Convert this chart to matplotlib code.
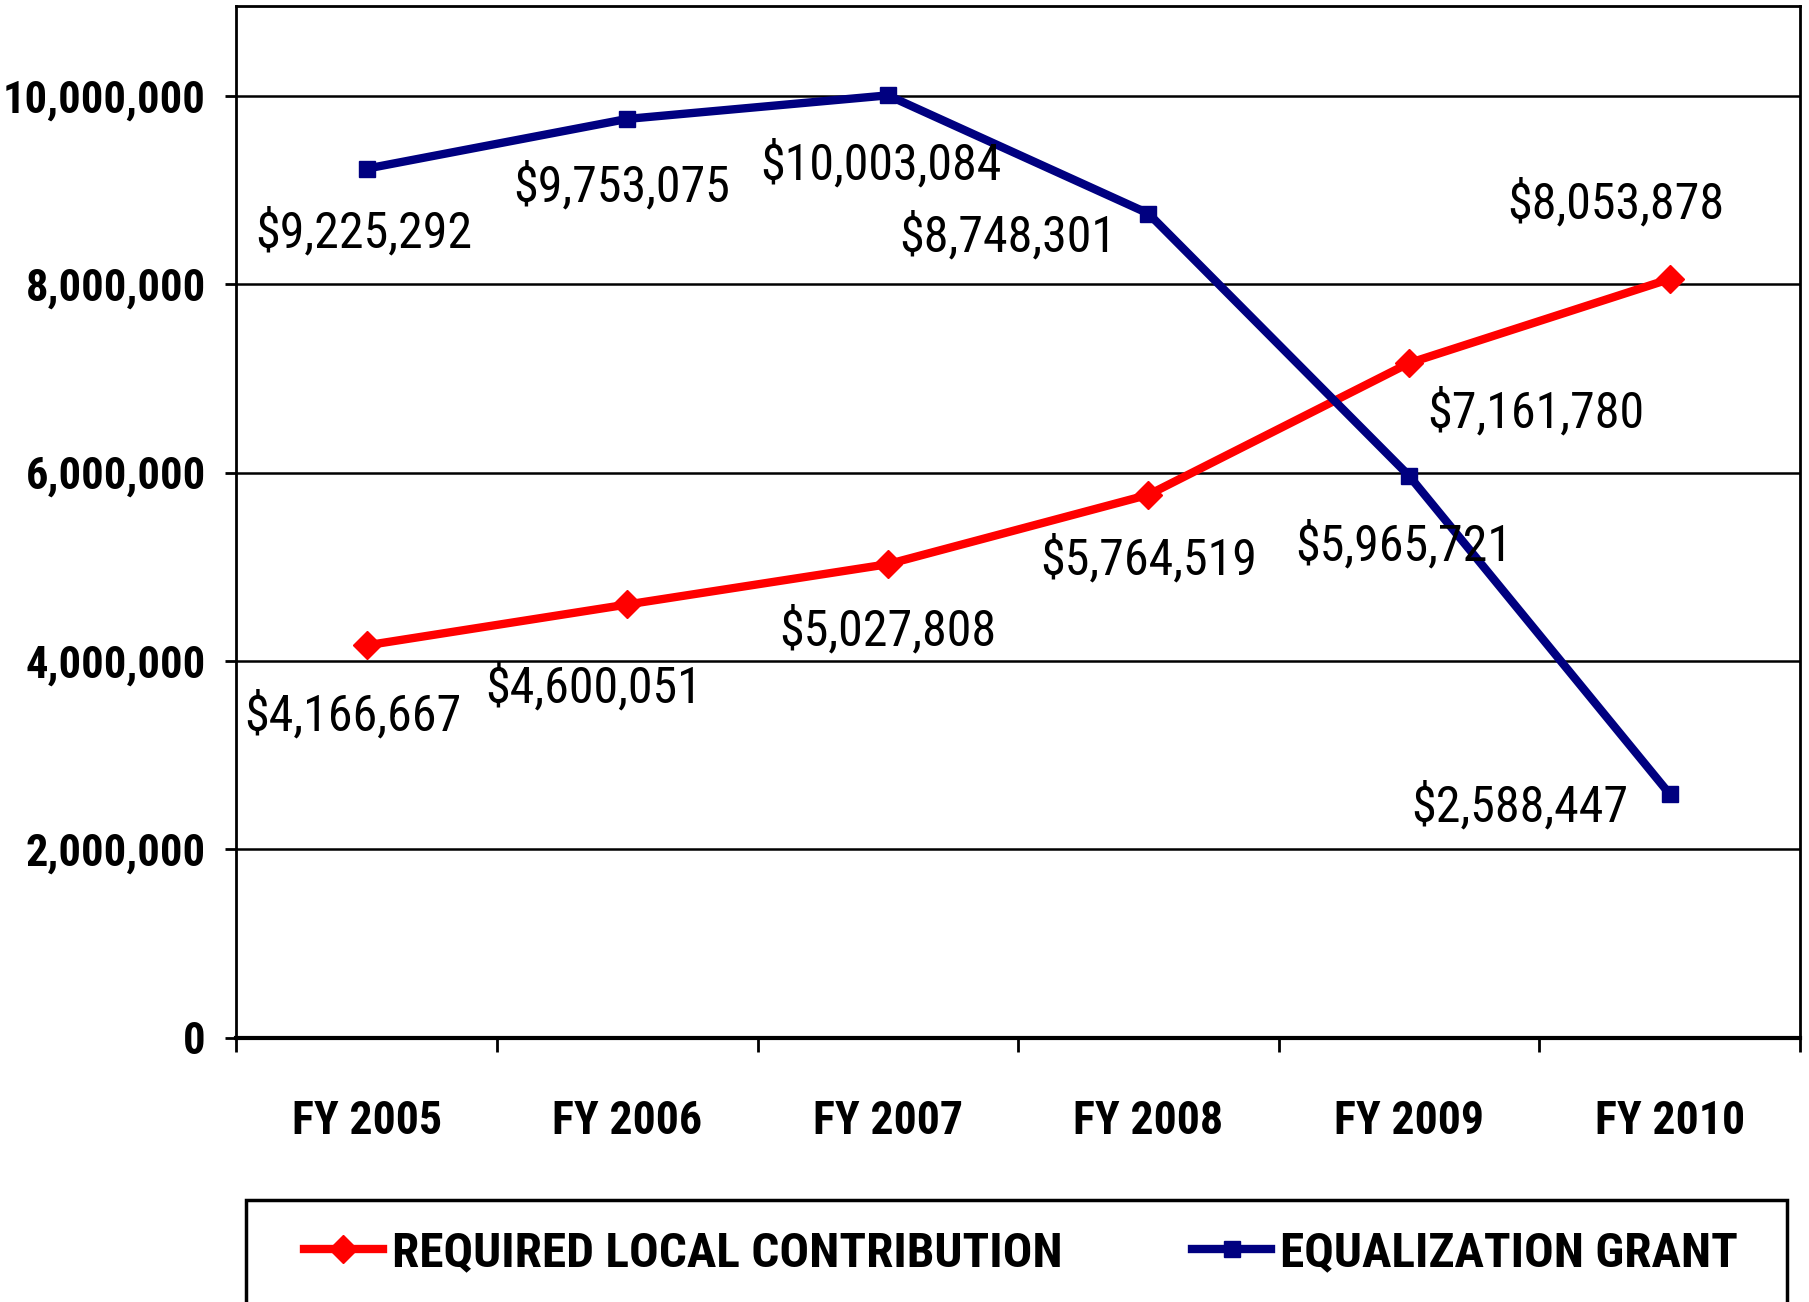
import matplotlib.pyplot as plt
import matplotlib.patches as patches
from matplotlib.ticker import FuncFormatter

plt.rcParams['font.family'] = ['Roboto Condensed', 'DejaVu Sans']

years = ['FY 2005', 'FY 2006', 'FY 2007', 'FY 2008', 'FY 2009', 'FY 2010']
local_contrib = [4166667, 4600051, 5027808, 5764519, 7161780, 8053878]
equal_grant = [9225292, 9753075, 10003084, 8748301, 5965721, 2588447]

# label offsets in points (dx, dy)
grant_off = [(-2, -46), (-4, -49), (-5, -50), (-101, -17), (-4, -50), (-108, -9)]
local_off = [(-10, -51), (-24, -60), (0, -48), (0, -47), (91, -36), (-39, 54)]

fig = plt.figure(figsize=(18.09, 13.02), dpi=100)
ax = fig.add_axes([0.1307, 0.2028, 0.8643, 0.7925])

x = list(range(len(years)))
l1, = ax.plot(x, local_contrib, color='#FF0000', lw=6, marker='D', ms=14,
              label='REQUIRED LOCAL CONTRIBUTION', zorder=4)
l2, = ax.plot(x, equal_grant, color='#000080', lw=6, marker='s', ms=11,
              label='EQUALIZATION GRANT', zorder=4)

for i in x:
    ax.annotate(f'${equal_grant[i]:,}', (i, equal_grant[i]), xytext=grant_off[i],
                textcoords='offset points', ha='center', va='center', fontsize=36, zorder=5)
    ax.annotate(f'${local_contrib[i]:,}', (i, local_contrib[i]), xytext=local_off[i],
                textcoords='offset points', ha='center', va='center', fontsize=36, zorder=5)

ax.set_xlim(-0.5, 5.5)
ax.set_ylim(0, 10.95e6)
ax.set_yticks(range(0, 10000001, 2000000))
ax.yaxis.set_major_formatter(FuncFormatter(lambda v, p: f'{int(v):,}'))
ax.grid(axis='y', color='black', lw=1.8)
ax.set_axisbelow(True)

ax.set_xticks(x)
ax.set_xticklabels(years)
ax.set_xticks([i - 0.5 for i in range(len(years) + 1)], minor=True)
ax.tick_params(axis='x', which='major', length=0, pad=44, labelsize=33)
ax.tick_params(axis='x', which='minor', length=10, width=2, direction='out')
ax.tick_params(axis='y', length=8, width=2, pad=14, labelsize=32)
for lab in ax.get_xticklabels() + ax.get_yticklabels():
    lab.set_fontweight('bold')

for s in ['left', 'top', 'right']:
    ax.spines[s].set_linewidth(2)
ax.spines['bottom'].set_linewidth(3)

box = patches.Rectangle((0.136, -0.05), 0.852, 0.128, transform=fig.transFigure,
                        fill=False, edgecolor='black', lw=2.5, clip_on=False)
fig.patches.append(box)

fig.legend(handles=[l1, l2], loc='center', bbox_to_anchor=(0.5644, 0.0376), ncol=2,
           frameon=False, prop={'weight': 'bold', 'size': 35.5}, handlelength=1.6,
           handletextpad=0.18, columnspacing=2.64)

plt.savefig('out.png')
